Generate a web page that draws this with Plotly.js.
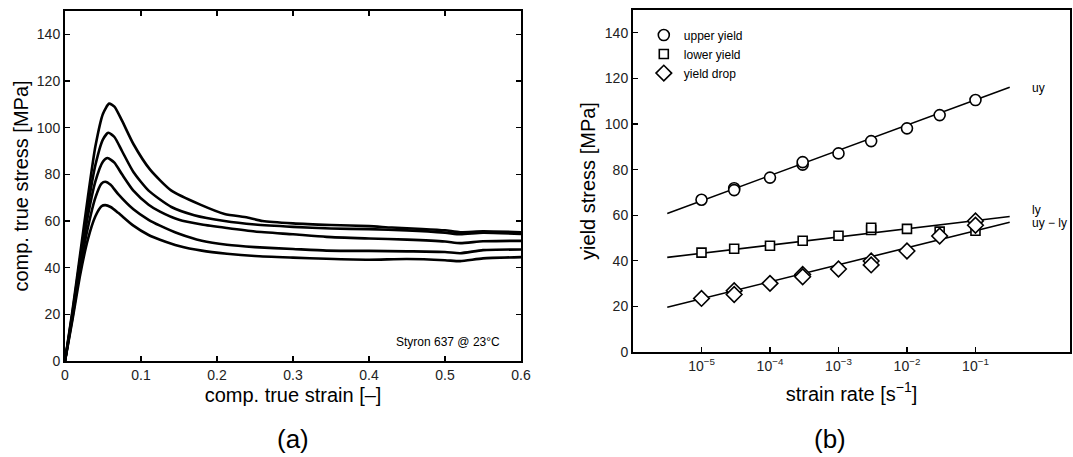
<!DOCTYPE html>
<html>
<head>
<meta charset="utf-8">
<script src="https://cdn.plot.ly/plotly-3.0.1.min.js"></script>
<style>html,body{margin:0;padding:0;background:#fff;}#chart{width:1073px;height:457px;}</style>
</head>
<body>
<div id="chart"></div>
<script>
// ---------- panel (a): compression stress-strain curves ----------
const strain1 = [0,0.01,0.02,0.03,0.04,0.05,0.058,0.065,0.075,0.09,0.112,0.14,0.178,0.21,0.24,0.26,0.3,0.35,0.4,0.43,0.47,0.5,0.52,0.55,0.6];
const stress1 = [0,22,46,70,92,106,110.3,109,103,93,82,73,67,63,61.5,60,59,58.3,57.8,57.2,56.6,56,55.2,55.6,55.2];
const strain2 = [0,0.01,0.02,0.03,0.04,0.05,0.057,0.065,0.075,0.09,0.11,0.14,0.17,0.21,0.25,0.3,0.35,0.4,0.45,0.5,0.52,0.55,0.6];
const stress2 = [0,21,44,66,84,95,97.8,96,90,81,73,66,62.5,60,58.5,57.5,56.8,56.5,56,55,54.3,55,54.4];
const strain3 = [0,0.01,0.02,0.03,0.04,0.05,0.056,0.065,0.075,0.09,0.11,0.125,0.15,0.18,0.213,0.25,0.3,0.344,0.4,0.45,0.5,0.52,0.55,0.6];
const stress3 = [0,20,42,62,77,85.5,87,85,80,73,67,64,60.5,58.5,57,55.5,54.3,53.2,52.5,52,51.2,50.5,51.3,51.5];
const strain4 = [0,0.01,0.02,0.03,0.04,0.048,0.053,0.06,0.07,0.09,0.11,0.125,0.15,0.18,0.213,0.25,0.3,0.344,0.4,0.45,0.5,0.52,0.55,0.6];
const stress4 = [0,19,40,57,70,76,76.8,75.5,71.5,65,60.5,58,54.5,51.5,49.8,48.8,48,47.3,47.2,47,46.7,46.2,47.5,47.8];
const strain5 = [0,0.01,0.02,0.03,0.04,0.048,0.053,0.06,0.07,0.09,0.11,0.125,0.15,0.18,0.213,0.25,0.3,0.344,0.4,0.45,0.5,0.52,0.55,0.6];
const stress5 = [0,18,37,52,62,66.3,66.8,66,63.5,58,54,52,49.3,47.3,46,45,44.3,43.8,43.4,43.7,43.2,42.8,44,44.5];

const strainTicks = [0,0.1,0.2,0.3,0.4,0.5,0.6];
const stressTicks = [0,20,40,60,80,100,120,140];

// ---------- panel (b): yield stress vs strain rate ----------
const rateUpper  = [1e-5,3e-5,3e-5,1e-4,3e-4,3e-4,1e-3,3e-3,1e-2,3e-2,1e-1];
const upperYield = [66.8,71.8,71.0,76.5,82.2,83.3,87.1,92.5,98.1,103.9,110.5];
const rateLower  = [1e-5,3e-5,1e-4,3e-4,1e-3,3e-3,3e-3,1e-2,3e-2,1e-1];
const lowerYield = [43.6,45.3,46.6,48.8,51.0,53.5,54.5,54.0,52.8,53.2];
const rateDrop   = [1e-5,3e-5,3e-5,1e-4,3e-4,3e-4,1e-3,3e-3,3e-3,1e-2,3e-2,1e-1,1e-1];
const yieldDrop  = [23.5,26.9,25.2,30.1,34.0,33.0,36.4,39.9,38.2,44.3,50.9,57.5,55.6];

// fitted lines (end points)
const fitRate  = [10**-5.5, 10**-0.5];
const fitUpper = [60.8,116.1];
const fitLower = [41.5,59.4];
const fitDrop  = [19.6,56.9];

const rateTicks = [1e-5,1e-4,1e-3,1e-2,1e-1];
const rateTickText = ['10<sup>−5</sup>','10<sup>−4</sup>','10<sup>−3</sup>','10<sup>−2</sup>','10<sup>−1</sup>'];

const curveLine = {color:'#000', width:2.6, shape:'spline', smoothing:0.6};
const traces = [];
[[strain1,stress1],[strain2,stress2],[strain3,stress3],[strain4,stress4],[strain5,stress5]].forEach(function(c){
  traces.push({x:c[0], y:c[1], xaxis:'x', yaxis:'y', mode:'lines', line:curveLine, showlegend:false, hoverinfo:'skip'});
});
const fitLine = {color:'#000', width:1.6};
traces.push({x:fitRate, y:fitUpper, xaxis:'x2', yaxis:'y2', mode:'lines', line:fitLine, showlegend:false});
traces.push({x:fitRate, y:fitLower, xaxis:'x2', yaxis:'y2', mode:'lines', line:fitLine, showlegend:false});
traces.push({x:fitRate, y:fitDrop, xaxis:'x2', yaxis:'y2', mode:'lines', line:fitLine, showlegend:false});
traces.push({x:rateUpper, y:upperYield, xaxis:'x2', yaxis:'y2', mode:'markers', name:'upper yield',
  marker:{symbol:'circle', size:11, color:'#fff', line:{color:'#000', width:1.6}}});
traces.push({x:rateLower, y:lowerYield, xaxis:'x2', yaxis:'y2', mode:'markers', name:'lower yield',
  marker:{symbol:'square', size:9, color:'#fff', line:{color:'#000', width:1.6}}});
traces.push({x:rateDrop, y:yieldDrop, xaxis:'x2', yaxis:'y2', mode:'markers', name:'yield drop',
  marker:{symbol:'diamond', size:12, color:'#fff', line:{color:'#000', width:1.6}}});

const FONT = 'Liberation Sans, Arial, sans-serif';
const axCommon = {showgrid:false, zeroline:false, showline:true, linecolor:'#000', linewidth:2,
  ticks:'inside', ticklen:5, tickwidth:1.2, tickcolor:'#000', tickfont:{family:FONT, size:14, color:'#222'}};

const layout = {
  width:1073, height:457, margin:{l:0,r:0,t:0,b:0},
  paper_bgcolor:'#fff', plot_bgcolor:'#fff',
  font:{family:FONT, color:'#000'},
  showlegend:true,
  legend:{x:0.600, y:0.955, xanchor:'left', yanchor:'top', bgcolor:'rgba(0,0,0,0)',
    font:{family:FONT, size:12, color:'#000'}, itemwidth:30, tracegroupgap:0},
  xaxis: Object.assign({}, axCommon, {domain:[65/1073, 521/1073], range:[0,0.6], tickvals:strainTicks,
    mirror:'allticks', anchor:'y',
    title:{text:'comp. true strain [–]', font:{family:FONT, size:20, color:'#000'}, standoff:6}}),
  yaxis: Object.assign({}, axCommon, {domain:[96/457, 446/457], range:[0,150], tickvals:stressTicks,
    mirror:'allticks', anchor:'x',
    title:{text:'comp. true stress [MPa]', font:{family:FONT, size:20, color:'#000'}, standoff:3}}),
  xaxis2: Object.assign({}, axCommon, {domain:[633/1073, 1070/1073], type:'log', range:[-6.0, 0.38],
    tickvals:rateTicks, ticktext:rateTickText, mirror:true, anchor:'y2',
    title:{text:'strain rate [s<sup>−1</sup>]', font:{family:FONT, size:20, color:'#000'}, standoff:14}}),
  yaxis2: Object.assign({}, axCommon, {domain:[105/457, 447/457], range:[0,150], tickvals:stressTicks,
    mirror:true, anchor:'x2',
    title:{text:'yield stress [MPa]', font:{family:FONT, size:20, color:'#000'}, standoff:4}}),
  annotations:[
    {text:'Styron 637 @ 23°C', xref:'x', yref:'y', x:0.575, y:8, xanchor:'right', yanchor:'middle', showarrow:false,
      font:{family:FONT, size:12, color:'#000'}},
    {text:'uy', xref:'x2', yref:'y2', x:-0.2, y:115.8, xanchor:'left', yanchor:'middle', showarrow:false,
      font:{family:FONT, size:12, color:'#000'}},
    {text:'ly', xref:'x2', yref:'y2', x:-0.2, y:62.3, xanchor:'left', yanchor:'middle', showarrow:false,
      font:{family:FONT, size:12, color:'#000'}},
    {text:'uy − ly', xref:'x2', yref:'y2', x:-0.2, y:56.6, xanchor:'left', yanchor:'middle', showarrow:false,
      font:{family:FONT, size:12, color:'#000'}},
    {text:'(a)', xref:'paper', yref:'paper', x:293/1073, y:1-439/457, xanchor:'center', yanchor:'middle', showarrow:false,
      font:{family:FONT, size:26, color:'#000'}},
    {text:'(b)', xref:'paper', yref:'paper', x:830/1073, y:1-439/457, xanchor:'center', yanchor:'middle', showarrow:false,
      font:{family:FONT, size:26, color:'#000'}}
  ]
};

Plotly.newPlot('chart', traces, layout, {staticPlot:true, displayModeBar:false});
</script>
</body>
</html>
